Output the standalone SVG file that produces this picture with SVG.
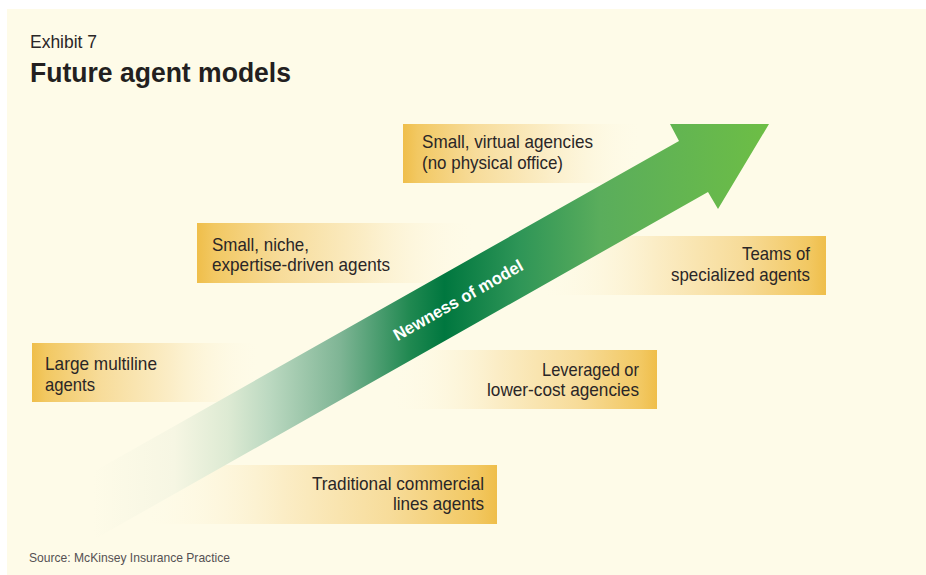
<svg xmlns="http://www.w3.org/2000/svg" width="926" height="575" viewBox="0 0 926 575">
<style>
.t{font-family:"Liberation Sans",Arial,sans-serif;font-size:19px;fill:#2a2627}
.r{text-anchor:end}
.ttl{font-family:"Liberation Sans",Arial,sans-serif;font-size:28px;font-weight:bold;fill:#231f20}
.ex{font-family:"Liberation Sans",Arial,sans-serif;font-size:18px;fill:#2a2627}
.src{font-family:"Liberation Sans",Arial,sans-serif;font-size:13px;fill:#555153}
.lbl{font-family:"Liberation Sans",Arial,sans-serif;font-size:17px;font-weight:bold;fill:#ffffff;text-anchor:middle}
</style>
<defs>
<linearGradient id="gL" x1="0" y1="0" x2="1" y2="0">
<stop offset="0" stop-color="#EFBE4A"/>
<stop offset="0.06" stop-color="#F2C862"/>
<stop offset="0.3" stop-color="#F7DC9A"/>
<stop offset="0.6" stop-color="#FBEDC6"/>
<stop offset="1" stop-color="#FEFBE8" stop-opacity="0"/>
</linearGradient>
<linearGradient id="gR" x1="1" y1="0" x2="0" y2="0">
<stop offset="0" stop-color="#EFBE4A"/>
<stop offset="0.06" stop-color="#F2C862"/>
<stop offset="0.3" stop-color="#F7DC9A"/>
<stop offset="0.6" stop-color="#FBEDC6"/>
<stop offset="1" stop-color="#FEFBE8" stop-opacity="0"/>
</linearGradient>
<linearGradient id="gA" gradientUnits="userSpaceOnUse" x1="93" y1="0" x2="769" y2="0">
<stop offset="0" stop-color="#FEFBE8"/>
<stop offset="0.12" stop-color="#F6F6E3"/>
<stop offset="0.2" stop-color="#DDEAD3"/>
<stop offset="0.26" stop-color="#BCD9C1"/>
<stop offset="0.365" stop-color="#7FB595"/>
<stop offset="0.47" stop-color="#1F8850"/>
<stop offset="0.52" stop-color="#00773F"/>
<stop offset="0.63" stop-color="#2E9557"/>
<stop offset="0.75" stop-color="#5AAD5C"/>
<stop offset="1" stop-color="#6DBE45"/>
</linearGradient>
</defs>
<rect x="0" y="0" width="926" height="575" fill="#ffffff"/>
<rect x="7" y="9" width="919" height="566" fill="#FEFBE8"/>
<text class="ex" x="30" y="48" textLength="67" lengthAdjust="spacingAndGlyphs">Exhibit 7</text>
<text class="ttl" x="30" y="82" textLength="261" lengthAdjust="spacingAndGlyphs">Future agent models</text>
<g id="node-virtual">
<rect x="403" y="124" width="240" height="59" fill="url(#gL)"/>
<text class="t" x="422" y="148" textLength="171" lengthAdjust="spacingAndGlyphs">Small, virtual agencies</text>
<text class="t" x="422" y="169" textLength="141" lengthAdjust="spacingAndGlyphs">(no physical office)</text>
</g>
<g id="node-niche">
<rect x="197" y="223" width="280" height="60" fill="url(#gL)"/>
<text class="t" x="212" y="251" textLength="97" lengthAdjust="spacingAndGlyphs">Small, niche,</text>
<text class="t" x="212" y="271" textLength="178" lengthAdjust="spacingAndGlyphs">expertise-driven agents</text>
</g>
<g id="node-teams">
<rect x="540" y="236" width="286" height="59" fill="url(#gR)"/>
<text class="t r" x="810" y="260" textLength="68" lengthAdjust="spacingAndGlyphs">Teams of</text>
<text class="t r" x="810" y="281" textLength="139" lengthAdjust="spacingAndGlyphs">specialized agents</text>
</g>
<g id="node-large">
<rect x="32" y="343" width="230" height="59" fill="url(#gL)"/>
<text class="t" x="45" y="370" textLength="112" lengthAdjust="spacingAndGlyphs">Large multiline</text>
<text class="t" x="45" y="391" textLength="50" lengthAdjust="spacingAndGlyphs">agents</text>
</g>
<g id="node-leveraged">
<rect x="390" y="350" width="267" height="59" fill="url(#gR)"/>
<text class="t r" x="639" y="376" textLength="97" lengthAdjust="spacingAndGlyphs">Leveraged or</text>
<text class="t r" x="639" y="396" textLength="152" lengthAdjust="spacingAndGlyphs">lower-cost agencies</text>
</g>
<g id="node-traditional">
<rect x="140" y="465" width="357" height="59" fill="url(#gR)"/>
<text class="t r" x="484" y="490" textLength="172" lengthAdjust="spacingAndGlyphs">Traditional commercial</text>
<text class="t r" x="484" y="510" textLength="91" lengthAdjust="spacingAndGlyphs">lines agents</text>
</g>
<g id="connectors">
<polygon id="arrow" points="93,472 679,141 670,124 769,124 718,209 708,192 93,540" fill="url(#gA)"/>
<text class="lbl" transform="translate(458,300) rotate(-29.5)" y="6" textLength="146" lengthAdjust="spacingAndGlyphs">Newness of model</text>
</g>
<text class="src" x="29" y="562" textLength="201" lengthAdjust="spacingAndGlyphs">Source: McKinsey Insurance Practice</text>
</svg>
